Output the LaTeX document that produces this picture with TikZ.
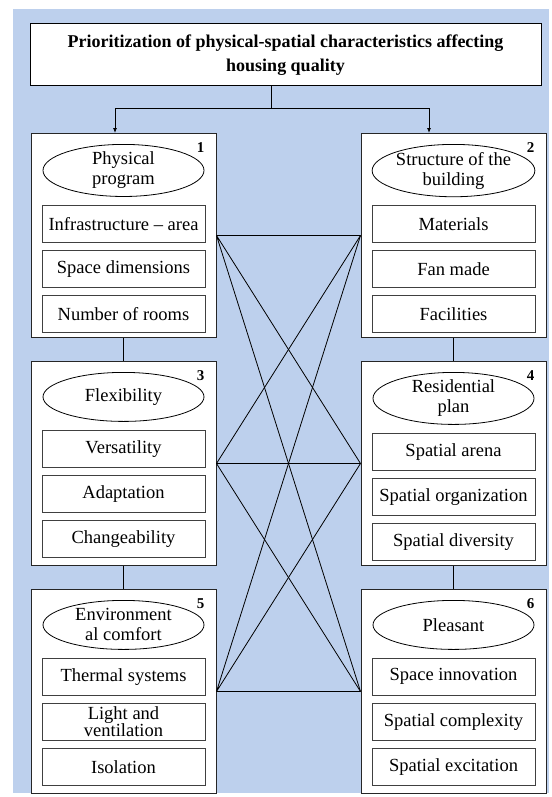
\documentclass[tikz,border=0pt]{standalone}
\usepackage{fontspec}
\setmainfont{Liberation Serif}
\usetikzlibrary{arrows.meta,positioning,shapes.geometric}
\definecolor{panelblue}{RGB}{189,208,237}
\newcommand{\itemfont}{\fontsize{18.5}{20}\selectfont}

\begin{document}
\begin{tikzpicture}[x=1pt,y=-1pt,
    groupbox/.style={draw=black!85,line width=1pt,fill=white,minimum width=185pt,minimum height=204pt,inner sep=0pt},
    factor/.style={ellipse,draw,line width=0.8pt,minimum width=161pt,minimum height=49pt,inner sep=0pt,align=center,font=\itemfont},
    itembox/.style={draw=black!75,line width=1pt,minimum width=163pt,minimum height=37pt,inner sep=0pt,align=center,font=\itemfont},
    numlabel/.style={font=\fontsize{15}{15}\selectfont\bfseries,inner sep=0pt},
    link/.style={line width=0.8pt}]
    \useasboundingbox (0,0) rectangle (551,797);
    \fill[panelblue] (13,9) rectangle (549,793);

    % Title
    \node[draw,line width=1pt,fill=white,minimum width=511pt,minimum height=62pt,align=center,
          font=\fontsize{18}{24}\selectfont\bfseries] (title) at (285.5,55)
        {Prioritization of physical-spatial characteristics affecting\\housing quality};

    % Group 1
    \node[groupbox] (g1) at (123.5,235.5) {};
    \node[factor,below=11pt of g1.north] (f1) {Physical\\program};
    \node[itembox,below=8pt of f1] (i11) {Infrastructure -- area};
    \node[itembox,below=7pt of i11] (i12) {Space dimensions};
    \node[itembox,below=7pt of i12] (i13) {Number of rooms};
    \node[numlabel,below left=9pt and 12pt of g1.north east] (n1) {1};

    % Group 2
    \node[groupbox,right=144pt of g1] (g2) {};
    \node[factor,below=11pt of g2.north] (f2) {Structure of the\\building};
    \node[itembox,below=8pt of f2] (i21) {Materials};
    \node[itembox,below=7pt of i21] (i22) {Fan made};
    \node[itembox,below=7pt of i22] (i23) {Facilities};
    \node[numlabel,below left=9pt and 12pt of g2.north east] (n2) {2};

    % Group 3
    \node[groupbox,below=23pt of g1] (g3) {};
    \node[factor,below=11pt of g3.north] (f3) {Flexibility};
    \node[itembox,below=8pt of f3] (i31) {Versatility};
    \node[itembox,below=7pt of i31] (i32) {Adaptation};
    \node[itembox,below=7pt of i32] (i33) {Changeability};
    \node[numlabel,below left=9pt and 12pt of g3.north east] (n3) {3};

    % Group 4
    \node[groupbox,below=23pt of g2] (g4) {};
    \node[factor,below=11pt of g4.north] (f4) {Residential\\plan};
    \node[itembox,below=8pt of f4] (i41) {Spatial arena};
    \node[itembox,below=7pt of i41] (i42) {Spatial organization};
    \node[itembox,below=7pt of i42] (i43) {Spatial diversity};
    \node[numlabel,below left=9pt and 12pt of g4.north east] (n4) {4};

    % Group 5
    \node[groupbox,below=23pt of g3] (g5) {};
    \node[factor,below=11pt of g5.north] (f5) {Environment\\al comfort};
    \node[itembox,below=8pt of f5] (i51) {Thermal systems};
    \node[itembox,below=7pt of i51,font=\fontsize{18.5}{17}\selectfont] (i52) {Light and\\ventilation};
    \node[itembox,below=7pt of i52] (i53) {Isolation};
    \node[numlabel,below left=9pt and 12pt of g5.north east] (n5) {5};

    % Group 6
    \node[groupbox,below=23pt of g4] (g6) {};
    \node[factor,below=11pt of g6.north] (f6) {Pleasant};
    \node[itembox,below=8pt of f6] (i61) {Space innovation};
    \node[itembox,below=7pt of i61] (i62) {Spatial complexity};
    \node[itembox,below=7pt of i62] (i63) {Spatial excitation};
    \node[numlabel,below left=9pt and 12pt of g6.north east] (n6) {6};

    % Title to first row
    \coordinate (split) at (271,108);
    \draw[link] (title.south -| split) -- (split);
    \draw[link,-{Latex[length=5pt,width=4pt]}] (split) -| ([xshift=-8.5pt]g1.north);
    \draw[link,-{Latex[length=5pt,width=4pt]}] (split) -| ([xshift=-24.5pt]g2.north);

    % Columns
    \draw[link] (g1) -- (g3) -- (g5);
    \draw[link] (g2) -- (g4) -- (g6);

    % Cross links
    \draw[link] (g1.east) -- (g2.west) (g1.east) -- (g4.west) (g1.east) -- (g6.west);
    \draw[link] (g3.east) -- (g2.west) (g3.east) -- (g4.west) (g3.east) -- (g6.west);
    \draw[link] (g5.east) -- (g2.west) (g5.east) -- (g4.west) (g5.east) -- (g6.west);
\end{tikzpicture}
\end{document}
